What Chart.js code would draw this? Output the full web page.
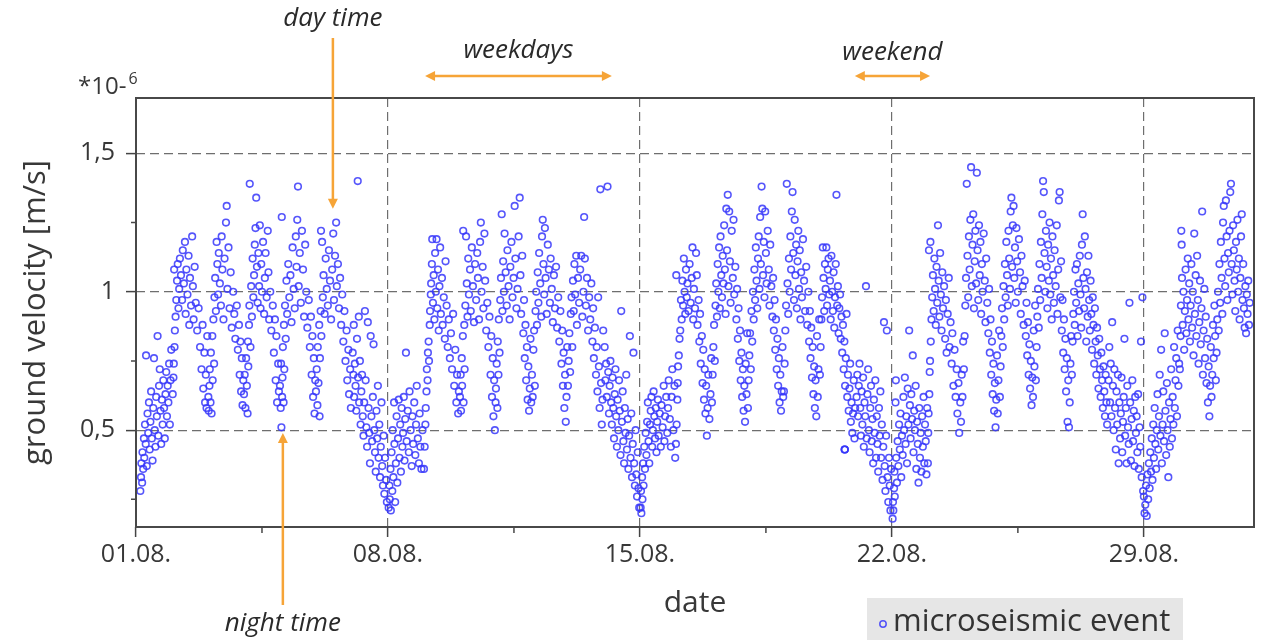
<!DOCTYPE html>
<html>
<head>
<meta charset="utf-8">
<script src="https://cdn.jsdelivr.net/npm/chart.js@4.4.1/dist/chart.umd.min.js"></script>
<style>
html,body{margin:0;padding:0;background:#fff;}
canvas{display:block;}
</style>
</head>
<body>
<canvas id="c" width="1263" height="640"></canvas>
<script>
// ---- data: [fraction of day, ground velocity *1e-6 m/s] for each day of August ----
const aug01 = [[0.12,0.28],[0.14,0.33],[0.15,0.38],[0.17,0.31],[0.18,0.42],[0.2,0.36],[0.22,0.47],[0.23,0.40],[0.25,0.52],[0.27,0.45],[0.28,0.77],[0.3,0.37],[0.32,0.56],[0.34,0.49],[0.36,0.60],[0.38,0.43],[0.4,0.53],[0.42,0.64],[0.44,0.47],[0.46,0.39],[0.48,0.58],[0.5,0.76],[0.52,0.50],[0.54,0.44],[0.56,0.62],[0.58,0.55],[0.6,0.84],[0.62,0.48],[0.64,0.66],[0.66,0.72],[0.68,0.57],[0.7,0.45],[0.72,0.61],[0.74,0.52],[0.76,0.68],[0.78,0.58],[0.8,0.47],[0.82,0.63],[0.84,0.71],[0.86,0.55],[0.88,0.66],[0.9,0.60],[0.92,0.74],[0.94,0.52],[0.96,0.68],[0.98,0.79]];
const aug02 = [[0.02,0.63],[0.04,0.69],[0.05,0.74],[0.07,0.80],[0.08,0.86],[0.1,0.91],[0.06,1.08],[0.12,0.97],[0.14,1.04],[0.16,1.10],[0.18,0.94],[0.2,1.01],[0.22,1.12],[0.25,1.06],[0.28,0.97],[0.3,1.15],[0.33,1.03],[0.36,1.18],[0.38,0.92],[0.4,1.08],[0.43,0.99],[0.46,1.13],[0.48,0.88],[0.5,1.05],[0.53,0.95],[0.56,1.20],[0.58,1.02],[0.6,0.90],[0.63,1.09],[0.66,0.96],[0.7,0.86],[0.74,0.94],[0.78,0.80],[0.82,0.72],[0.85,0.88],[0.87,0.65],[0.9,0.78],[0.92,0.60],[0.94,0.70],[0.96,0.58],[0.98,0.84]];
const aug03 = [[0.01,0.62],[0.02,0.57],[0.04,0.66],[0.05,0.72],[0.07,0.60],[0.08,0.78],[0.1,0.56],[0.12,0.84],[0.13,0.68],[0.15,0.90],[0.17,0.74],[0.18,0.98],[0.2,1.05],[0.22,0.93],[0.24,1.18],[0.26,1.10],[0.28,0.99],[0.3,1.14],[0.33,1.03],[0.36,0.95],[0.38,1.20],[0.4,1.08],[0.43,0.90],[0.46,1.12],[0.5,1.25],[0.52,1.31],[0.54,1.01],[0.57,1.16],[0.6,0.94],[0.63,1.07],[0.66,0.87],[0.7,1.00],[0.73,0.92],[0.76,0.83],[0.8,0.95],[0.83,0.79],[0.86,0.88],[0.88,0.70],[0.9,0.82],[0.92,0.64],[0.94,0.76],[0.96,0.59],[0.98,0.68]];
const aug04 = [[0.0,0.63],[0.02,0.70],[0.04,0.58],[0.06,0.76],[0.08,0.66],[0.1,0.56],[0.11,0.82],[0.12,0.73],[0.14,0.88],[0.15,0.95],[0.16,1.39],[0.18,0.80],[0.2,1.02],[0.22,0.91],[0.24,1.12],[0.26,0.98],[0.28,1.06],[0.3,1.17],[0.32,1.23],[0.34,1.34],[0.36,1.09],[0.38,0.96],[0.4,1.14],[0.42,1.02],[0.44,1.24],[0.46,0.94],[0.48,1.10],[0.5,1.00],[0.53,1.18],[0.56,0.92],[0.58,1.05],[0.6,1.14],[0.63,0.98],[0.66,1.22],[0.68,1.07],[0.7,0.90],[0.73,1.00],[0.76,0.86],[0.8,0.95],[0.83,0.78],[0.86,0.90],[0.88,0.68],[0.9,0.84],[0.92,0.60],[0.95,0.74],[0.97,0.64]];
const aug05 = [[0.0,0.66],[0.02,0.58],[0.03,0.74],[0.04,0.51],[0.05,1.27],[0.06,0.62],[0.07,0.69],[0.08,0.80],[0.1,0.60],[0.11,0.88],[0.12,0.72],[0.14,0.95],[0.16,0.83],[0.18,1.04],[0.2,0.92],[0.23,1.10],[0.26,0.98],[0.29,1.06],[0.32,0.89],[0.35,1.16],[0.38,1.01],[0.41,0.94],[0.44,1.20],[0.46,1.09],[0.48,1.26],[0.5,1.38],[0.52,1.02],[0.55,1.14],[0.58,0.96],[0.61,1.22],[0.64,1.08],[0.67,0.91],[0.7,1.17],[0.73,1.00],[0.76,0.87],[0.8,0.97],[0.83,0.80],[0.86,0.91],[0.88,0.70],[0.9,0.84],[0.92,0.62],[0.94,0.76],[0.96,0.56],[0.98,0.68]];
const aug06 = [[0.0,0.64],[0.02,0.72],[0.04,0.59],[0.05,0.80],[0.07,0.67],[0.09,0.88],[0.1,0.55],[0.11,0.76],[0.13,0.93],[0.14,1.22],[0.15,0.84],[0.17,1.18],[0.19,0.98],[0.21,1.06],[0.24,0.92],[0.27,1.12],[0.3,1.01],[0.33,0.95],[0.36,1.15],[0.39,1.04],[0.42,0.90],[0.45,1.08],[0.48,1.21],[0.5,0.97],[0.53,1.13],[0.56,1.25],[0.58,1.02],[0.61,1.10],[0.64,0.94],[0.67,1.05],[0.7,0.88],[0.73,0.99],[0.76,0.82],[0.79,0.93],[0.82,0.75],[0.85,0.86],[0.87,0.68],[0.9,0.79],[0.92,0.63],[0.95,0.72],[0.97,0.58]];
const aug07 = [[0.02,0.78],[0.04,0.70],[0.05,0.88],[0.06,0.62],[0.08,0.74],[0.1,0.66],[0.12,0.57],[0.14,0.83],[0.16,1.40],[0.17,0.69],[0.19,0.91],[0.2,0.60],[0.22,0.75],[0.24,0.52],[0.26,0.64],[0.28,0.70],[0.3,0.55],[0.32,0.48],[0.34,0.60],[0.36,0.93],[0.38,0.68],[0.4,0.51],[0.42,0.44],[0.44,0.89],[0.46,0.58],[0.48,0.49],[0.5,0.38],[0.52,0.84],[0.54,0.55],[0.56,0.46],[0.58,0.62],[0.6,0.81],[0.62,0.50],[0.64,0.42],[0.66,0.35],[0.68,0.57],[0.7,0.47],[0.72,0.66],[0.74,0.40],[0.76,0.52],[0.78,0.33],[0.8,0.44],[0.82,0.60],[0.84,0.37],[0.86,0.30],[0.88,0.48],[0.9,0.27],[0.92,0.40],[0.95,0.32],[0.97,0.24]];
const aug08 = [[0.02,0.22],[0.04,0.30],[0.05,0.25],[0.07,0.36],[0.08,0.21],[0.1,0.42],[0.12,0.28],[0.13,0.50],[0.15,0.33],[0.17,0.60],[0.18,0.45],[0.2,0.24],[0.22,0.38],[0.24,0.55],[0.26,0.31],[0.28,0.47],[0.3,0.61],[0.32,0.40],[0.34,0.52],[0.36,0.35],[0.38,0.58],[0.4,0.44],[0.42,0.49],[0.44,0.62],[0.46,0.39],[0.48,0.54],[0.5,0.78],[0.52,0.46],[0.55,0.57],[0.58,0.42],[0.6,0.64],[0.63,0.50],[0.66,0.37],[0.68,0.55],[0.7,0.45],[0.73,0.60],[0.76,0.41],[0.78,0.52],[0.8,0.66],[0.83,0.47],[0.86,0.38],[0.88,0.56],[0.9,0.44],[0.93,0.36],[0.96,0.50]];
const aug09 = [[0.0,0.36],[0.02,0.44],[0.04,0.52],[0.05,0.58],[0.07,0.64],[0.08,0.72],[0.1,0.68],[0.11,0.78],[0.13,0.82],[0.14,0.75],[0.16,0.88],[0.17,0.93],[0.19,0.99],[0.2,1.03],[0.22,1.10],[0.23,1.19],[0.25,0.96],[0.27,1.06],[0.29,0.90],[0.31,1.14],[0.33,1.00],[0.35,1.19],[0.37,0.94],[0.39,1.08],[0.41,0.86],[0.43,1.02],[0.45,1.16],[0.47,0.92],[0.5,1.05],[0.52,0.88],[0.55,0.98],[0.58,0.83],[0.6,1.11],[0.63,0.95],[0.66,0.80],[0.69,0.90],[0.72,0.76],[0.75,0.85],[0.78,0.72],[0.81,0.92],[0.84,0.66],[0.87,0.79],[0.9,0.60],[0.92,0.70],[0.95,0.56],[0.97,0.64]];
const aug10 = [[0.0,0.62],[0.02,0.70],[0.03,0.57],[0.05,0.76],[0.06,0.66],[0.08,0.84],[0.09,1.22],[0.1,0.60],[0.12,0.88],[0.13,0.72],[0.15,0.95],[0.17,1.20],[0.19,1.03],[0.21,0.91],[0.23,1.12],[0.25,0.99],[0.28,1.08],[0.3,0.93],[0.33,1.16],[0.36,1.02],[0.39,0.89],[0.42,1.10],[0.45,0.97],[0.48,1.14],[0.5,1.05],[0.53,0.90],[0.56,1.18],[0.58,1.25],[0.6,1.00],[0.63,1.09],[0.65,0.94],[0.68,1.21],[0.7,1.04],[0.73,0.86],[0.76,0.96],[0.79,0.80],[0.82,0.91],[0.85,0.70],[0.87,0.84],[0.89,0.62],[0.91,0.76],[0.93,0.55],[0.95,0.68],[0.97,0.50],[0.99,0.60]];
const aug11 = [[0.0,0.65],[0.02,0.74],[0.04,0.58],[0.05,0.82],[0.07,0.70],[0.08,0.90],[0.1,0.78],[0.12,0.97],[0.14,1.05],[0.16,1.28],[0.18,0.93],[0.2,1.11],[0.22,1.00],[0.24,1.21],[0.27,1.07],[0.3,0.95],[0.32,1.15],[0.35,1.02],[0.38,0.90],[0.4,1.09],[0.43,1.18],[0.46,0.98],[0.49,1.05],[0.52,1.31],[0.54,1.12],[0.57,0.94],[0.6,1.01],[0.63,1.20],[0.66,1.34],[0.68,1.06],[0.7,0.92],[0.73,1.13],[0.76,0.85],[0.78,0.97],[0.8,0.76],[0.82,0.88],[0.84,0.68],[0.86,0.80],[0.88,0.61],[0.9,0.73],[0.92,0.57],[0.94,0.65],[0.96,0.83],[0.98,0.60]];
const aug12 = [[0.0,0.70],[0.02,0.62],[0.04,0.79],[0.06,0.86],[0.08,0.66],[0.1,0.93],[0.12,1.00],[0.14,0.88],[0.16,1.07],[0.18,0.96],[0.2,1.14],[0.23,1.03],[0.26,0.91],[0.28,1.20],[0.3,1.26],[0.32,1.10],[0.34,0.99],[0.36,1.23],[0.38,1.05],[0.41,0.92],[0.44,1.17],[0.47,1.08],[0.5,0.96],[0.52,1.12],[0.55,1.01],[0.58,0.89],[0.61,1.06],[0.64,0.94],[0.67,1.09],[0.7,0.87],[0.73,0.98],[0.76,0.82],[0.79,0.93],[0.82,0.74],[0.84,0.86],[0.86,0.66],[0.88,0.78],[0.9,0.58],[0.92,0.70],[0.94,0.53],[0.96,0.62],[0.98,0.80]];
const aug13 = [[0.0,0.66],[0.02,0.75],[0.04,0.85],[0.06,0.71],[0.08,0.92],[0.1,0.98],[0.12,0.80],[0.14,1.04],[0.16,0.93],[0.18,1.10],[0.2,0.99],[0.23,1.13],[0.25,0.88],[0.28,1.05],[0.31,0.96],[0.34,1.08],[0.37,1.13],[0.4,0.91],[0.43,1.00],[0.45,1.27],[0.47,1.12],[0.5,0.95],[0.53,1.05],[0.56,0.86],[0.59,0.98],[0.62,0.90],[0.65,1.03],[0.68,0.82],[0.7,0.94],[0.72,0.76],[0.75,0.87],[0.78,0.70],[0.8,0.80],[0.82,0.64],[0.84,0.98],[0.86,0.73],[0.88,0.58],[0.9,1.37],[0.92,0.67],[0.94,0.52],[0.96,0.61],[0.98,0.86]];
const aug14 = [[0.02,0.80],[0.04,0.68],[0.06,0.74],[0.08,0.62],[0.1,1.38],[0.12,0.71],[0.14,0.56],[0.16,0.66],[0.18,0.75],[0.2,0.60],[0.22,0.52],[0.24,0.69],[0.26,0.58],[0.28,0.47],[0.3,0.63],[0.32,0.72],[0.34,0.55],[0.36,0.44],[0.38,0.61],[0.4,0.50],[0.42,0.68],[0.44,0.57],[0.46,0.41],[0.48,0.93],[0.5,0.53],[0.52,0.64],[0.54,0.46],[0.56,0.38],[0.58,0.58],[0.6,0.49],[0.62,0.70],[0.64,0.43],[0.66,0.54],[0.68,0.36],[0.7,0.48],[0.72,0.84],[0.74,0.40],[0.76,0.56],[0.78,0.33],[0.8,0.45],[0.82,0.78],[0.84,0.38],[0.86,0.30],[0.88,0.50],[0.9,0.34],[0.92,0.26],[0.94,0.42],[0.96,0.29],[0.98,0.22]];
const aug15 = [[0.02,0.22],[0.03,0.28],[0.04,0.20],[0.06,0.33],[0.07,0.25],[0.09,0.38],[0.1,0.30],[0.12,0.44],[0.14,0.36],[0.16,0.49],[0.18,0.41],[0.2,0.53],[0.22,0.60],[0.24,0.46],[0.26,0.38],[0.28,0.52],[0.3,0.57],[0.32,0.62],[0.34,0.44],[0.36,0.50],[0.38,0.64],[0.4,0.55],[0.42,0.47],[0.44,0.58],[0.46,0.42],[0.48,0.53],[0.5,0.61],[0.52,0.48],[0.55,0.56],[0.58,0.44],[0.6,0.59],[0.63,0.51],[0.66,0.66],[0.68,0.46],[0.7,0.55],[0.73,0.62],[0.76,0.49],[0.78,0.58],[0.8,0.68],[0.83,0.54],[0.86,0.44],[0.88,0.62],[0.9,0.72],[0.93,0.50],[0.96,0.66],[0.98,0.40]];
const aug16 = [[0.0,0.45],[0.01,1.06],[0.02,0.52],[0.04,0.61],[0.05,0.67],[0.06,0.73],[0.08,0.77],[0.1,0.83],[0.12,0.86],[0.14,0.97],[0.16,0.90],[0.18,1.04],[0.2,0.95],[0.22,1.12],[0.24,1.00],[0.26,0.92],[0.28,1.08],[0.3,0.98],[0.32,1.03],[0.35,0.93],[0.38,1.10],[0.41,0.96],[0.44,1.05],[0.46,1.16],[0.48,0.90],[0.5,1.01],[0.53,0.94],[0.56,1.14],[0.58,1.06],[0.6,0.88],[0.63,0.97],[0.65,0.82],[0.67,0.92],[0.69,0.74],[0.72,0.84],[0.74,0.67],[0.76,0.79],[0.78,0.61],[0.8,0.72],[0.82,0.56],[0.84,0.66],[0.86,0.48],[0.88,0.58],[0.9,0.70],[0.93,0.54],[0.96,0.63],[0.98,0.76]];
const aug17 = [[0.0,0.60],[0.02,0.70],[0.04,0.80],[0.06,0.88],[0.08,0.75],[0.1,0.95],[0.12,1.03],[0.14,0.91],[0.16,1.10],[0.18,1.00],[0.2,1.16],[0.22,0.94],[0.24,1.20],[0.26,1.06],[0.28,0.98],[0.3,1.13],[0.32,1.03],[0.34,1.24],[0.36,1.08],[0.38,0.92],[0.4,1.30],[0.42,1.15],[0.44,1.35],[0.46,1.02],[0.48,1.29],[0.5,1.11],[0.52,0.96],[0.55,1.22],[0.58,1.05],[0.6,1.26],[0.62,0.99],[0.65,1.09],[0.68,0.90],[0.7,1.01],[0.72,0.83],[0.74,0.94],[0.76,0.75],[0.78,0.86],[0.8,0.68],[0.82,0.78],[0.84,0.62],[0.86,0.72],[0.88,0.57],[0.9,0.66],[0.92,0.53],[0.94,0.74],[0.96,0.63],[0.98,0.85]];
const aug18 = [[0.0,0.58],[0.02,0.68],[0.04,0.77],[0.06,0.85],[0.08,0.72],[0.1,0.93],[0.12,0.82],[0.14,1.00],[0.16,0.90],[0.18,1.08],[0.2,0.97],[0.22,1.16],[0.24,1.04],[0.26,0.94],[0.28,1.12],[0.3,1.20],[0.32,1.01],[0.34,1.27],[0.36,1.10],[0.38,1.38],[0.4,1.30],[0.42,1.06],[0.44,1.18],[0.46,0.98],[0.48,1.29],[0.5,1.14],[0.52,1.03],[0.55,1.22],[0.58,1.08],[0.6,0.95],[0.62,1.17],[0.65,1.02],[0.68,0.91],[0.7,1.05],[0.72,0.86],[0.74,0.97],[0.76,0.79],[0.78,0.90],[0.8,0.72],[0.82,0.83],[0.84,0.66],[0.86,0.76],[0.88,0.60],[0.9,0.70],[0.92,0.57],[0.94,0.64],[0.96,0.80],[0.98,0.62]];
const aug19 = [[0.0,0.64],[0.02,0.74],[0.04,0.86],[0.06,0.95],[0.08,1.39],[0.1,1.03],[0.12,0.92],[0.14,1.12],[0.16,1.00],[0.18,1.20],[0.2,1.08],[0.22,1.29],[0.24,1.36],[0.26,1.14],[0.28,0.97],[0.3,1.26],[0.32,1.06],[0.34,1.17],[0.36,0.94],[0.38,1.11],[0.4,1.22],[0.42,1.01],[0.44,1.15],[0.46,0.90],[0.48,1.07],[0.5,0.98],[0.53,1.19],[0.56,1.04],[0.59,0.93],[0.62,1.09],[0.65,0.88],[0.68,1.00],[0.7,0.82],[0.72,0.93],[0.74,0.76],[0.76,0.87],[0.78,0.69],[0.8,0.80],[0.82,0.63],[0.84,0.73],[0.86,0.58],[0.88,0.68],[0.9,0.55],[0.92,0.84],[0.94,0.62],[0.96,0.72],[0.98,0.90]];
const aug20 = [[0.0,0.70],[0.02,0.80],[0.04,0.90],[0.06,0.98],[0.08,1.16],[0.1,1.05],[0.12,0.93],[0.14,1.10],[0.16,1.01],[0.18,1.16],[0.2,0.95],[0.22,1.08],[0.24,1.12],[0.26,0.99],[0.28,1.04],[0.3,0.90],[0.32,1.13],[0.34,1.00],[0.36,0.93],[0.38,1.07],[0.4,0.87],[0.42,0.98],[0.44,1.10],[0.46,1.35],[0.48,0.95],[0.5,1.02],[0.52,0.85],[0.54,0.94],[0.56,0.99],[0.58,0.83],[0.6,0.91],[0.62,0.78],[0.64,0.88],[0.66,0.72],[0.68,0.82],[0.69,0.43],[0.69,0.43],[0.69,0.43],[0.7,0.66],[0.72,0.76],[0.74,0.92],[0.76,0.62],[0.78,0.70],[0.8,0.57],[0.82,0.65],[0.84,0.74],[0.86,0.53],[0.88,0.60],[0.9,0.49],[0.92,0.56],[0.94,0.68],[0.96,0.47],[0.98,0.58]];
const aug21 = [[0.02,0.62],[0.04,0.70],[0.06,0.55],[0.08,0.66],[0.1,0.74],[0.12,0.58],[0.14,0.48],[0.16,0.64],[0.18,0.52],[0.2,0.69],[0.22,0.44],[0.24,0.60],[0.26,0.55],[0.28,1.02],[0.3,0.47],[0.32,0.63],[0.34,0.72],[0.36,0.50],[0.38,0.42],[0.4,0.58],[0.42,0.66],[0.44,0.46],[0.46,0.54],[0.48,0.38],[0.5,0.61],[0.52,0.49],[0.54,0.68],[0.56,0.40],[0.58,0.55],[0.6,0.45],[0.62,0.35],[0.64,0.58],[0.66,0.48],[0.68,0.64],[0.7,0.40],[0.72,0.52],[0.74,0.32],[0.76,0.44],[0.78,0.89],[0.8,0.37],[0.82,0.28],[0.84,0.48],[0.86,0.86],[0.88,0.33],[0.9,0.24],[0.92,0.40],[0.94,0.30],[0.96,0.21],[0.98,0.36]];
const aug22 = [[0.02,0.18],[0.03,0.24],[0.04,0.21],[0.06,0.29],[0.07,0.35],[0.08,0.26],[0.1,0.60],[0.11,0.68],[0.12,0.40],[0.14,0.31],[0.16,0.46],[0.18,0.37],[0.2,0.52],[0.22,0.43],[0.24,0.56],[0.26,0.33],[0.28,0.48],[0.3,0.41],[0.32,0.62],[0.34,0.50],[0.36,0.69],[0.38,0.45],[0.4,0.55],[0.42,0.38],[0.44,0.65],[0.46,0.52],[0.48,0.86],[0.5,0.59],[0.52,0.47],[0.54,0.63],[0.56,0.54],[0.58,0.77],[0.6,0.42],[0.62,0.57],[0.64,0.50],[0.66,0.66],[0.68,0.36],[0.7,0.53],[0.72,0.45],[0.74,0.31],[0.76,0.58],[0.78,0.40],[0.8,0.49],[0.82,0.35],[0.84,0.55],[0.86,0.44],[0.88,0.62],[0.9,0.38],[0.92,0.52],[0.94,0.46],[0.96,0.34],[0.98,0.58]];
const aug23 = [[0.0,0.38],[0.01,0.49],[0.02,0.56],[0.03,1.15],[0.04,0.63],[0.05,0.71],[0.06,0.75],[0.07,1.18],[0.08,0.82],[0.1,0.90],[0.12,0.98],[0.14,1.06],[0.16,0.93],[0.18,1.12],[0.2,1.01],[0.22,0.88],[0.24,1.09],[0.26,0.96],[0.28,1.24],[0.3,1.04],[0.32,0.91],[0.34,1.14],[0.36,0.99],[0.38,0.86],[0.4,1.07],[0.42,0.94],[0.45,1.02],[0.48,0.83],[0.5,0.97],[0.52,0.78],[0.55,0.92],[0.58,1.05],[0.6,0.80],[0.63,0.89],[0.66,0.74],[0.68,0.85],[0.71,0.66],[0.74,0.79],[0.77,0.62],[0.8,0.72],[0.82,0.56],[0.85,0.67],[0.87,0.49],[0.9,0.60],[0.92,0.53],[0.94,0.70],[0.96,0.62],[0.98,0.82]];
const aug24 = [[0.0,0.72],[0.02,0.84],[0.04,0.95],[0.06,1.05],[0.08,1.39],[0.1,1.13],[0.12,0.98],[0.14,1.20],[0.16,1.08],[0.18,1.26],[0.2,1.45],[0.22,1.02],[0.24,1.17],[0.26,1.28],[0.28,0.94],[0.3,1.11],[0.32,1.22],[0.34,1.03],[0.36,1.43],[0.38,1.15],[0.4,0.97],[0.42,1.24],[0.44,1.06],[0.46,1.18],[0.48,0.92],[0.5,1.10],[0.52,1.00],[0.55,1.21],[0.58,1.04],[0.6,0.89],[0.62,1.12],[0.65,0.96],[0.68,0.85],[0.7,1.01],[0.72,0.78],[0.74,0.90],[0.76,0.70],[0.78,0.82],[0.8,0.63],[0.82,0.74],[0.84,0.57],[0.86,0.67],[0.88,0.51],[0.9,0.61],[0.92,0.77],[0.94,0.56],[0.96,0.68],[0.98,0.86]];
const aug25 = [[0.0,0.62],[0.02,0.73],[0.04,0.84],[0.06,0.94],[0.08,0.80],[0.1,1.02],[0.12,0.90],[0.14,1.10],[0.16,0.98],[0.18,1.18],[0.2,1.06],[0.22,0.95],[0.24,1.22],[0.26,1.12],[0.28,1.01],[0.3,1.29],[0.32,1.34],[0.34,1.09],[0.36,1.24],[0.38,1.31],[0.4,1.05],[0.42,1.16],[0.44,0.96],[0.46,1.23],[0.48,1.11],[0.5,1.00],[0.53,1.19],[0.56,1.07],[0.58,0.92],[0.6,1.13],[0.63,1.02],[0.66,0.88],[0.69,1.04],[0.72,0.84],[0.74,0.96],[0.76,0.77],[0.78,0.89],[0.8,0.70],[0.82,0.81],[0.84,0.65],[0.86,0.75],[0.88,0.59],[0.9,0.69],[0.92,0.62],[0.94,0.86],[0.96,0.73],[0.98,0.95]];
const aug26 = [[0.0,0.68],[0.02,0.80],[0.04,0.91],[0.06,1.01],[0.08,0.87],[0.1,1.10],[0.12,0.97],[0.14,1.18],[0.16,1.05],[0.18,1.28],[0.2,1.40],[0.22,1.36],[0.24,1.14],[0.26,1.00],[0.28,1.22],[0.3,1.09],[0.32,0.94],[0.34,1.17],[0.36,1.04],[0.38,1.25],[0.4,0.99],[0.42,1.12],[0.44,0.90],[0.46,1.20],[0.48,1.06],[0.5,0.96],[0.52,1.15],[0.55,1.02],[0.58,1.24],[0.6,0.92],[0.62,1.08],[0.64,1.33],[0.66,1.36],[0.68,0.98],[0.7,1.11],[0.72,0.86],[0.74,0.97],[0.76,0.78],[0.78,0.90],[0.8,0.72],[0.82,0.83],[0.84,0.64],[0.86,0.76],[0.88,0.53],[0.9,0.68],[0.92,0.51],[0.94,0.60],[0.96,0.74],[0.98,0.84]];
const aug27 = [[0.0,0.70],[0.02,0.82],[0.04,0.92],[0.06,1.00],[0.08,0.88],[0.1,1.08],[0.12,0.96],[0.14,1.10],[0.16,0.84],[0.18,1.03],[0.2,0.93],[0.22,1.13],[0.24,0.99],[0.26,0.87],[0.28,1.17],[0.3,1.28],[0.32,1.05],[0.34,0.94],[0.36,1.20],[0.38,1.01],[0.4,0.82],[0.42,1.07],[0.44,0.91],[0.46,1.13],[0.48,0.97],[0.5,0.86],[0.52,1.04],[0.54,0.92],[0.56,0.79],[0.58,0.98],[0.6,0.88],[0.62,0.74],[0.64,0.94],[0.66,0.82],[0.68,0.70],[0.7,0.87],[0.72,0.77],[0.74,0.65],[0.76,0.83],[0.78,0.72],[0.8,0.62],[0.82,0.78],[0.84,0.68],[0.86,0.58],[0.88,0.73],[0.9,0.64],[0.92,0.55],[0.94,0.70],[0.96,0.60],[0.98,0.52]];
const aug28 = [[0.02,0.68],[0.04,0.80],[0.06,0.60],[0.08,0.74],[0.1,0.55],[0.12,0.89],[0.14,0.66],[0.16,0.50],[0.18,0.72],[0.2,0.58],[0.22,0.43],[0.24,0.64],[0.26,0.52],[0.28,0.70],[0.3,0.38],[0.32,0.60],[0.34,0.47],[0.36,0.56],[0.38,0.69],[0.4,0.42],[0.42,0.53],[0.44,0.62],[0.46,0.83],[0.48,0.48],[0.5,0.58],[0.52,0.38],[0.54,0.66],[0.56,0.51],[0.58,0.45],[0.6,0.96],[0.62,0.60],[0.64,0.39],[0.66,0.54],[0.68,0.68],[0.7,0.46],[0.72,0.57],[0.74,0.37],[0.76,0.62],[0.78,0.49],[0.8,0.55],[0.82,0.42],[0.84,0.63],[0.86,0.36],[0.88,0.51],[0.9,0.44],[0.92,0.82],[0.94,0.33],[0.96,0.98],[0.98,0.28]];
const aug29 = [[0.0,0.26],[0.02,0.20],[0.04,0.23],[0.06,0.30],[0.08,0.19],[0.1,0.34],[0.12,0.25],[0.14,0.38],[0.16,0.29],[0.18,0.42],[0.2,0.35],[0.22,0.47],[0.24,0.32],[0.26,0.52],[0.28,0.40],[0.3,0.58],[0.32,0.45],[0.34,0.36],[0.36,0.50],[0.38,0.63],[0.4,0.43],[0.42,0.55],[0.44,0.70],[0.46,0.48],[0.48,0.79],[0.5,0.38],[0.52,0.52],[0.54,0.64],[0.56,0.46],[0.58,0.85],[0.6,0.57],[0.62,0.41],[0.64,0.67],[0.66,0.50],[0.68,0.33],[0.7,0.60],[0.72,0.44],[0.74,0.54],[0.76,0.72],[0.78,0.47],[0.8,0.62],[0.82,0.52],[0.84,0.80],[0.86,0.58],[0.88,0.68],[0.9,0.76],[0.92,0.55],[0.94,0.86],[0.96,0.66],[0.98,0.74]];
const aug30 = [[0.0,0.72],[0.02,0.84],[0.03,0.95],[0.04,1.22],[0.05,1.17],[0.06,1.05],[0.08,0.88],[0.1,1.00],[0.12,0.79],[0.14,0.93],[0.16,1.08],[0.18,0.85],[0.2,0.97],[0.22,1.12],[0.24,0.90],[0.26,1.03],[0.28,0.82],[0.3,0.95],[0.32,1.10],[0.34,0.87],[0.36,1.00],[0.38,0.77],[0.4,1.21],[0.42,0.92],[0.44,1.06],[0.46,0.84],[0.48,1.13],[0.5,0.97],[0.52,0.74],[0.54,0.89],[0.56,1.04],[0.58,0.81],[0.6,0.94],[0.62,1.29],[0.64,0.70],[0.66,0.86],[0.68,1.01],[0.7,0.76],[0.72,0.91],[0.74,0.67],[0.76,0.83],[0.78,0.60],[0.8,0.73],[0.82,0.55],[0.84,0.66],[0.86,0.80],[0.88,0.62],[0.9,0.70],[0.92,0.88],[0.94,0.76],[0.96,0.95],[0.98,0.84]];
const aug31 = [[0.0,0.68],[0.02,0.78],[0.04,0.90],[0.06,1.00],[0.08,0.86],[0.1,1.10],[0.12,0.96],[0.14,1.18],[0.16,1.05],[0.18,0.92],[0.2,1.25],[0.22,1.31],[0.24,1.12],[0.26,1.02],[0.28,1.33],[0.3,1.20],[0.32,0.97],[0.34,1.14],[0.36,1.07],[0.38,1.22],[0.4,1.36],[0.42,1.39],[0.44,1.10],[0.46,0.99],[0.48,1.24],[0.5,1.15],[0.52,1.04],[0.54,0.93],[0.56,1.18],[0.58,1.08],[0.6,1.26],[0.62,1.00],[0.64,1.12],[0.66,0.90],[0.68,1.05],[0.7,1.20],[0.72,1.28],[0.74,0.97],[0.76,1.10],[0.78,0.94],[0.8,0.87],[0.82,1.02],[0.84,0.85],[0.86,0.99],[0.88,0.92],[0.9,1.04],[0.92,0.88],[0.94,0.96]];

const augustDays = [aug01,aug02,aug03,aug04,aug05,aug06,aug07,aug08,aug09,aug10,aug11,aug12,aug13,aug14,aug15,aug16,aug17,aug18,aug19,aug20,aug21,aug22,aug23,aug24,aug25,aug26,aug27,aug28,aug29,aug30,aug31];

// ---- axes ----
const xTickValues = [0, 7, 14, 21, 28];
const xTickLabels = ['01.08.', '08.08.', '15.08.', '22.08.', '29.08.'];
const xMinorTicks = [3.5, 10.5, 17.5, 24.5];
const yTickValues = [0.5, 1, 1.5];
const yTickLabels = ['0,5', '1', '1,5'];
const yMinorTicks = [0.25, 0.75, 1.25];

// ---- annotations (x in days since 01.08., y tips in data units) ----
const dayTimeArrow = {x: 5.47, tip: 1.30};
const nightTimeArrow = {x: 4.08, tip: 0.49};
const weekdaysSpan = [8.03, 13.22];
const weekendSpan = [19.97, 22.06];

const points = [];
augustDays.forEach((day, i) => day.forEach(([f, v]) => points.push({x: i + f, y: v})));

const FONT = '"Open Sans", "Noto Sans", sans-serif';
const TEXT = '#383838';
const ORANGE = '#f6a437';
const MARKER = 'rgba(55,55,250,0.85)';

function arrowHead(ctx, x, y, dx, dy) {
  const L = 10, W = 5;
  ctx.beginPath();
  ctx.moveTo(x, y);
  ctx.lineTo(x - dx * L - dy * W, y - dy * L + dx * W);
  ctx.lineTo(x - dx * L + dy * W, y - dy * L - dx * W);
  ctx.closePath();
  ctx.fill();
}

const overlay = {
  id: 'overlay',
  afterDraw(chart) {
    const {ctx, chartArea: a, scales: {x, y}} = chart;
    ctx.save();
    // frame
    ctx.strokeStyle = '#484848';
    ctx.lineWidth = 2;
    ctx.setLineDash([]);
    ctx.strokeRect(a.left, a.top, a.right - a.left, a.bottom - a.top);
    // minor ticks
    ctx.lineWidth = 1.5;
    ctx.beginPath();
    yMinorTicks.forEach(v => { const py = y.getPixelForValue(v); ctx.moveTo(a.left - 5, py); ctx.lineTo(a.left, py); });
    xMinorTicks.forEach(v => { const px = x.getPixelForValue(v); ctx.moveTo(px, a.bottom); ctx.lineTo(px, a.bottom + 6); });
    ctx.stroke();

    // exponent label
    ctx.fillStyle = TEXT;
    ctx.textBaseline = 'alphabetic';
    ctx.textAlign = 'left';
    ctx.font = '24px ' + FONT;
    ctx.fillText('*10-', 78, 94);
    const w = ctx.measureText('*10-').width;
    ctx.font = '16px ' + FONT;
    ctx.fillText('6', 78 + w + 2, 84);

    // annotations
    ctx.font = 'italic 26px ' + FONT;
    ctx.textAlign = 'center';
    ctx.textBaseline = 'middle';
    ctx.fillStyle = '#2a2a2a';
    const dx = x.getPixelForValue(dayTimeArrow.x);
    const nx = x.getPixelForValue(nightTimeArrow.x);
    const wd0 = x.getPixelForValue(weekdaysSpan[0]), wd1 = x.getPixelForValue(weekdaysSpan[1]);
    const we0 = x.getPixelForValue(weekendSpan[0]), we1 = x.getPixelForValue(weekendSpan[1]);
    ctx.fillText('day time', dx, 19);
    ctx.fillText('night time', nx, 624);
    ctx.fillText('weekdays', (wd0 + wd1) / 2, 51);
    ctx.fillText('weekend', (we0 + we1) / 2, 53);

    ctx.strokeStyle = ORANGE;
    ctx.fillStyle = ORANGE;
    ctx.lineWidth = 2.5;
    const dTip = y.getPixelForValue(dayTimeArrow.tip);
    const nTip = y.getPixelForValue(nightTimeArrow.tip);
    ctx.beginPath();
    ctx.moveTo(dx, 38); ctx.lineTo(dx, dTip - 8);
    ctx.moveTo(nx, 605); ctx.lineTo(nx, nTip + 8);
    ctx.moveTo(wd0 + 8, 76); ctx.lineTo(wd1 - 8, 76);
    ctx.moveTo(we0 + 8, 76); ctx.lineTo(we1 - 8, 76);
    ctx.stroke();
    arrowHead(ctx, dx, dTip, 0, 1);
    arrowHead(ctx, nx, nTip, 0, -1);
    arrowHead(ctx, wd0, 76, -1, 0);
    arrowHead(ctx, wd1, 76, 1, 0);
    arrowHead(ctx, we0, 76, -1, 0);
    arrowHead(ctx, we1, 76, 1, 0);

    // legend
    ctx.fillStyle = '#e6e6e6';
    ctx.fillRect(867, 598, 316, 50);
    ctx.strokeStyle = MARKER;
    ctx.lineWidth = 1.5;
    ctx.beginPath();
    ctx.arc(883, 624, 3.2, 0, Math.PI * 2);
    ctx.stroke();
    ctx.fillStyle = '#333';
    ctx.textAlign = 'left';
    ctx.textBaseline = 'middle';
    ctx.font = '31px ' + FONT;
    ctx.fillText('microseismic event', 893, 622);
    ctx.restore();
  }
};

new Chart(document.getElementById('c'), {
  type: 'scatter',
  data: {
    datasets: [{
      label: 'microseismic event',
      data: points,
      showLine: false,
      pointStyle: 'circle',
      pointRadius: 3.3,
      pointBorderWidth: 1.6,
      borderColor: MARKER,
      pointBorderColor: MARKER,
      backgroundColor: 'rgba(0,0,0,0)',
      pointBackgroundColor: 'rgba(0,0,0,0)'
    }]
  },
  options: {
    responsive: false,
    animation: false,
    devicePixelRatio: 1,
    layout: {padding: {left: 0, right: 9, top: 98, bottom: 0}},
    plugins: {legend: {display: false}, tooltip: {enabled: false}},
    scales: {
      x: {
        type: 'linear', min: 0, max: 31.06,
        afterBuildTicks: s => { s.ticks = xTickValues.map(v => ({value: v})); },
        afterFit: s => { s.height = 113; },
        ticks: {
          autoSkip: false, maxRotation: 0, padding: 3, color: TEXT,
          font: {family: FONT, size: 25},
          callback: v => xTickLabels[xTickValues.indexOf(v)]
        },
        grid: {color: '#6e6e6e', lineWidth: 1.2, tickColor: '#444', tickLength: 10, tickWidth: 1.5, tickBorderDash: []},
        border: {display: false, dash: [9, 5]},
        title: {display: true, text: 'date', color: TEXT, font: {family: FONT, size: 30}, padding: {top: 0, bottom: 19}}
      },
      y: {
        type: 'linear', min: 0.15, max: 1.7,
        afterBuildTicks: s => { s.ticks = yTickValues.map(v => ({value: v})); },
        afterFit: s => { s.width = 136; },
        ticks: {
          padding: 11, color: TEXT,
          font: {family: FONT, size: 25},
          callback: v => yTickLabels[yTickValues.indexOf(v)]
        },
        grid: {color: '#6e6e6e', lineWidth: 1.2, tickColor: '#444', tickLength: 10, tickWidth: 1.5, tickBorderDash: []},
        border: {display: false, dash: [9, 5]},
        title: {display: true, text: 'ground velocity [m/s]', color: TEXT, font: {family: FONT, size: 31}, padding: {top: 18, bottom: 0}}
      }
    }
  },
  plugins: [overlay]
});
</script>
</body>
</html>
